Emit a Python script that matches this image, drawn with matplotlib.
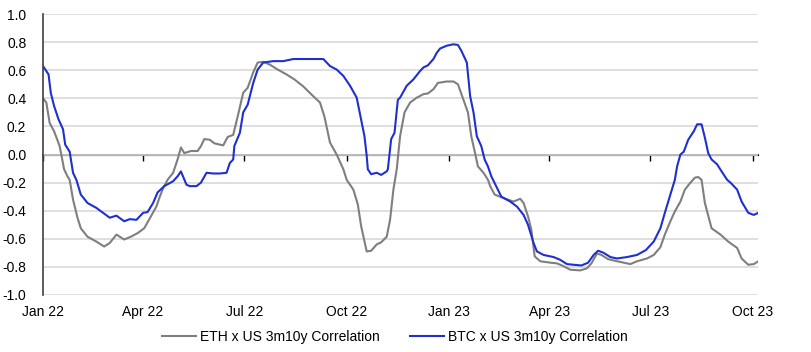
import pandas as pd
import matplotlib
matplotlib.use("Agg")
import matplotlib.pyplot as plt

plt.rcParams['font.family'] = ['Liberation Sans', 'DejaVu Sans']

btc_dates = [
    "2022-01-01", "2022-01-06", "2022-01-08", "2022-01-11", "2022-01-15", "2022-01-19",
    "2022-01-21", "2022-01-25", "2022-01-28", "2022-01-31", "2022-02-04", "2022-02-10",
    "2022-02-18", "2022-02-24", "2022-03-02", "2022-03-08", "2022-03-15", "2022-03-20",
    "2022-03-26", "2022-04-01", "2022-04-05", "2022-04-10", "2022-04-14", "2022-04-20",
    "2022-04-28", "2022-05-02", "2022-05-05", "2022-05-10", "2022-05-13", "2022-05-19",
    "2022-05-23", "2022-05-28", "2022-06-03", "2022-06-09", "2022-06-15", "2022-06-18",
    "2022-06-21", "2022-06-22", "2022-06-27", "2022-06-30", "2022-07-04", "2022-07-09",
    "2022-07-13", "2022-07-18", "2022-07-27", "2022-08-05", "2022-08-14", "2022-08-23",
    "2022-09-01", "2022-09-10", "2022-09-16", "2022-09-22", "2022-09-28", "2022-10-04",
    "2022-10-10", "2022-10-14", "2022-10-17", "2022-10-19", "2022-10-20", "2022-10-23",
    "2022-10-28", "2022-11-01", "2022-11-06", "2022-11-07", "2022-11-10", "2022-11-13",
    "2022-11-16", "2022-11-18", "2022-11-24", "2022-11-30", "2022-12-06", "2022-12-09",
    "2022-12-13", "2022-12-18", "2022-12-21", "2022-12-24", "2022-12-30", "2023-01-05",
    "2023-01-09", "2023-01-12", "2023-01-17", "2023-01-20", "2023-01-23", "2023-01-26",
    "2023-01-30", "2023-02-02", "2023-02-05", "2023-02-08", "2023-02-13", "2023-02-17",
    "2023-02-25", "2023-03-03", "2023-03-09", "2023-03-13", "2023-03-18", "2023-03-21",
    "2023-03-27", "2023-04-05", "2023-04-11", "2023-04-17", "2023-04-23", "2023-04-30",
    "2023-05-06", "2023-05-11", "2023-05-15", "2023-05-20", "2023-05-26", "2023-06-01",
    "2023-06-10", "2023-06-19", "2023-06-27", "2023-07-04", "2023-07-10", "2023-07-14",
    "2023-07-19", "2023-07-23", "2023-07-25", "2023-07-28", "2023-07-31", "2023-08-04",
    "2023-08-09", "2023-08-12", "2023-08-16", "2023-08-19", "2023-08-22", "2023-08-25",
    "2023-08-30", "2023-09-03", "2023-09-08", "2023-09-11", "2023-09-17", "2023-09-21",
    "2023-09-27", "2023-10-02", "2023-10-06",
]
btc_corr = [
    0.63, 0.57, 0.44, 0.345, 0.25, 0.18,
    0.07, 0.02, -0.13, -0.18, -0.285, -0.345,
    -0.38, -0.415, -0.45, -0.435, -0.475, -0.46,
    -0.465, -0.415, -0.41, -0.345, -0.27, -0.225,
    -0.19, -0.155, -0.12, -0.215, -0.225, -0.225,
    -0.20, -0.13, -0.135, -0.135, -0.13, -0.06,
    -0.035, 0.06, 0.155, 0.30, 0.355, 0.51,
    0.605, 0.655, 0.665, 0.665, 0.68, 0.68,
    0.68, 0.68, 0.63, 0.605, 0.56, 0.49,
    0.405, 0.25, 0.13, -0.01, -0.105, -0.14,
    -0.13, -0.145, -0.12, -0.105, 0.11, 0.155,
    0.39, 0.405, 0.49, 0.535, 0.595, 0.62,
    0.635, 0.68, 0.725, 0.755, 0.775, 0.785,
    0.78, 0.74, 0.655, 0.415, 0.30, 0.13,
    0.06, -0.035, -0.085, -0.155, -0.235, -0.30,
    -0.335, -0.37, -0.43, -0.50, -0.63, -0.69,
    -0.715, -0.73, -0.75, -0.78, -0.785, -0.79,
    -0.77, -0.715, -0.685, -0.70, -0.73, -0.74,
    -0.73, -0.715, -0.68, -0.62, -0.525, -0.415,
    -0.285, -0.18, -0.085, 0.0, 0.02, 0.105,
    0.165, 0.215, 0.215, 0.12, 0.01, -0.035,
    -0.07, -0.12, -0.18, -0.20, -0.25, -0.335,
    -0.415, -0.43, -0.415,
]

eth_dates = [
    "2022-01-01", "2022-01-04", "2022-01-07", "2022-01-11", "2022-01-16", "2022-01-20",
    "2022-01-23", "2022-01-25", "2022-01-28", "2022-02-01", "2022-02-04", "2022-02-10",
    "2022-02-18", "2022-02-25", "2022-03-02", "2022-03-08", "2022-03-15", "2022-03-21",
    "2022-03-27", "2022-04-02", "2022-04-08", "2022-04-13", "2022-04-16", "2022-04-19",
    "2022-04-23", "2022-04-28", "2022-05-02", "2022-05-05", "2022-05-08", "2022-05-14",
    "2022-05-20", "2022-05-23", "2022-05-26", "2022-05-31", "2022-06-04", "2022-06-12",
    "2022-06-16", "2022-06-21", "2022-06-25", "2022-06-30", "2022-07-04", "2022-07-09",
    "2022-07-13", "2022-07-18", "2022-07-24", "2022-07-31", "2022-08-08", "2022-08-15",
    "2022-08-23", "2022-08-30", "2022-09-07", "2022-09-11", "2022-09-16", "2022-09-22",
    "2022-09-28", "2022-10-01", "2022-10-07", "2022-10-11", "2022-10-14", "2022-10-17",
    "2022-10-19", "2022-10-23", "2022-10-28", "2022-11-01", "2022-11-06", "2022-11-09",
    "2022-11-12", "2022-11-15", "2022-11-18", "2022-11-22", "2022-11-27", "2022-12-03",
    "2022-12-09", "2022-12-13", "2022-12-18", "2022-12-22", "2022-12-30", "2023-01-05",
    "2023-01-09", "2023-01-14", "2023-01-18", "2023-01-21", "2023-01-24", "2023-01-27",
    "2023-02-01", "2023-02-05", "2023-02-07", "2023-02-11", "2023-02-19", "2023-02-28",
    "2023-03-06", "2023-03-09", "2023-03-13", "2023-03-16", "2023-03-19", "2023-03-24",
    "2023-04-02", "2023-04-08", "2023-04-14", "2023-04-20", "2023-04-29", "2023-05-05",
    "2023-05-09", "2023-05-14", "2023-05-18", "2023-05-24", "2023-06-01", "2023-06-13",
    "2023-06-19", "2023-06-28", "2023-07-04", "2023-07-10", "2023-07-14", "2023-07-19",
    "2023-07-23", "2023-07-28", "2023-08-01", "2023-08-06", "2023-08-10", "2023-08-13",
    "2023-08-16", "2023-08-19", "2023-08-25", "2023-09-02", "2023-09-09", "2023-09-17",
    "2023-09-21", "2023-09-27", "2023-10-02", "2023-10-06",
]
eth_corr = [
    0.40, 0.37, 0.225, 0.165, 0.06, -0.105,
    -0.155, -0.18, -0.32, -0.45, -0.525, -0.585,
    -0.62, -0.655, -0.63, -0.57, -0.605, -0.585,
    -0.56, -0.525, -0.44, -0.37, -0.30, -0.24,
    -0.18, -0.13, -0.035, 0.05, 0.01, 0.025,
    0.025, 0.06, 0.11, 0.105, 0.08, 0.065,
    0.125, 0.14, 0.27, 0.44, 0.475, 0.585,
    0.655, 0.66, 0.64, 0.605, 0.57, 0.535,
    0.485, 0.43, 0.37, 0.27, 0.085, 0.0,
    -0.105, -0.18, -0.25, -0.355, -0.51, -0.62,
    -0.69, -0.685, -0.64, -0.625, -0.585, -0.465,
    -0.25, -0.105, 0.13, 0.30, 0.37, 0.405,
    0.43, 0.435, 0.465, 0.51, 0.52, 0.52,
    0.50, 0.39, 0.30, 0.13, 0.025, -0.085,
    -0.13, -0.18, -0.225, -0.285, -0.31, -0.335,
    -0.315, -0.345, -0.44, -0.535, -0.725, -0.76,
    -0.77, -0.775, -0.795, -0.82, -0.825, -0.81,
    -0.775, -0.705, -0.715, -0.745, -0.76, -0.78,
    -0.76, -0.74, -0.715, -0.66, -0.57, -0.475,
    -0.405, -0.335, -0.25, -0.20, -0.165, -0.16,
    -0.18, -0.345, -0.525, -0.57, -0.62, -0.665,
    -0.74, -0.785, -0.78, -0.76,
]

tick_dates = ["2022-01-01", "2022-04-01", "2022-07-01", "2022-10-01",
              "2023-01-01", "2023-04-01", "2023-07-01", "2023-10-01"]
tick_labels = ["Jan 22", "Apr 22", "Jul 22", "Oct 22",
               "Jan 23", "Apr 23", "Jul 23", "Oct 23"]
y_ticks = [-1.0, -0.8, -0.6, -0.4, -0.2, 0.0, 0.2, 0.4, 0.6, 0.8, 1.0]

btc = pd.Series(btc_corr, index=pd.to_datetime(btc_dates))
eth = pd.Series(eth_corr, index=pd.to_datetime(eth_dates))
ticks = pd.to_datetime(tick_dates)

fig = plt.figure(figsize=(8.11, 3.52), dpi=100)
ax = fig.add_axes([0.053, 0.162, 0.882, 0.798])

ax.plot(eth.index, eth.values, color='#7f7f7f', lw=1.5,
        label='ETH x US 3m10y Correlation')
ax.plot(btc.index, btc.values, color='#1f2fd0', lw=1.5,
        label='BTC x US 3m10y Correlation')

ax.set_ylim(-1.0, 1.0)
ax.set_yticks(y_ticks)
ax.set_yticklabels([f"{v:.1f}" for v in y_ticks], fontsize=10)
ax.grid(axis='y', color='#d9d9d9', lw=1.2)
ax.set_axisbelow(True)

ax.set_xlim(pd.Timestamp("2022-01-01"), pd.Timestamp("2023-10-06"))
ax.set_xticks(ticks)
ax.set_xticklabels(tick_labels, fontsize=10)
ax.tick_params(axis='x', length=0, pad=7)
ax.tick_params(axis='y', length=0, pad=12)

for side in ['top', 'right', 'bottom']:
    ax.spines[side].set_visible(False)
ax.spines['left'].set_color('#404040')
ax.spines['left'].set_linewidth(1.2)

# zero line with the quarter ticks hanging below it
zero = ax.secondary_xaxis(0.5)
zero.set_xticks(ticks)
zero.set_xticklabels([])
zero.tick_params(axis='x', direction='out', length=4, width=1, color='black')
zero.spines['bottom'].set_color('black')
zero.spines['bottom'].set_linewidth(1.2)
zero.spines['bottom'].set_visible(True)
zero.xaxis.set_ticks_position('bottom')

fig.legend(loc='center', bbox_to_anchor=(0.487, 0.043), ncol=2, frameon=False,
           fontsize=10, handlelength=2.4, columnspacing=2.2, handletextpad=0.3)

fig.savefig('out.png', dpi=100)
